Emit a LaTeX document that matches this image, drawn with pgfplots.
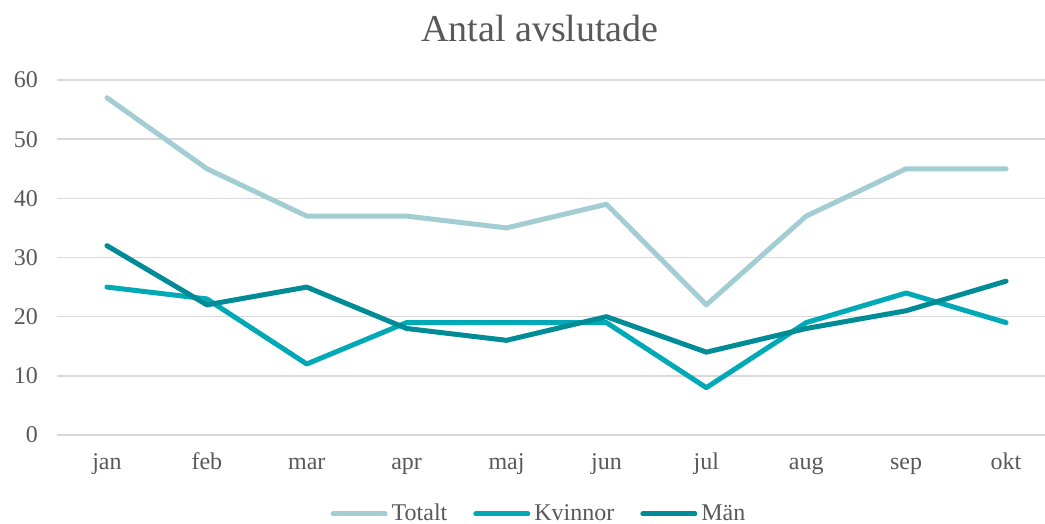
\documentclass[border=0pt]{standalone}
\usepackage{pgfplots}
\pgfplotsset{compat=1.18}
\usepackage{fontspec}
\setmainfont{Liberation Serif}
\definecolor{ctot}{HTML}{A1CDD3}
\definecolor{ckv}{HTML}{00A9B6}
\definecolor{cman}{HTML}{008C96}
\definecolor{ctxt}{HTML}{595959}
\definecolor{cgrid}{HTML}{D9D9D9}
\begin{document}
\begin{tikzpicture}
\path[use as bounding box] (-28.5pt,-44.5pt) rectangle (494pt,217.5pt);
\begin{axis}[
  at={(0,0)}, anchor=south west,
  scale only axis, width=494pt, height=177.5pt,
  xmin=-0.5, xmax=9.39, ymin=0, ymax=60,
  xtick={0,...,9},
  xticklabels={jan,feb,mar,apr,maj,jun,jul,aug,sep,okt},
  ytick={0,10,...,60},
  axis line style={draw=none},
  major tick length=0pt,
  ymajorgrids, grid style={cgrid, line width=0.8pt},
  tick label style={font=\fontsize{12}{14}\selectfont, text=ctxt},
  /pgf/number format/assume math mode=true,
  xticklabel style={anchor=base, yshift=-17.5pt},
  yticklabel style={xshift=-6pt},
  clip=false,
  legend style={at={(241.5pt,-44.5pt+5pt)}, anchor=center, draw=none, fill=none,
    legend columns=3, font=\fontsize{12}{14}\selectfont, text=ctxt,
    inner sep=0pt,
    /tikz/every even column/.append style={column sep=11pt},
    nodes={inner xsep=2pt}},
  legend cell align=left,
  legend image code/.code={\draw[#1, line cap=round] (0pt,0pt) -- (26pt,0pt);},
]
\addplot[ctot, line width=2.5pt, line cap=round, line join=round] coordinates {(0,57)(1,45)(2,37)(3,37)(4,35)(5,39)(6,22)(7,37)(8,45)(9,45)};
\addplot[ckv, line width=2.5pt, line cap=round, line join=round] coordinates {(0,25)(1,23)(2,12)(3,19)(4,19)(5,19)(6,8)(7,19)(8,24)(9,19)};
\addplot[cman, line width=2.5pt, line cap=round, line join=round] coordinates {(0,32)(1,22)(2,25)(3,18)(4,16)(5,20)(6,14)(7,18)(8,21)(9,26)};
\legend{Totalt,Kvinnor,Män}
\end{axis}
\node[text=ctxt, font=\fontsize{19}{22}\selectfont] at (241.5pt,203pt) {Antal avslutade};
\end{tikzpicture}
\end{document}
